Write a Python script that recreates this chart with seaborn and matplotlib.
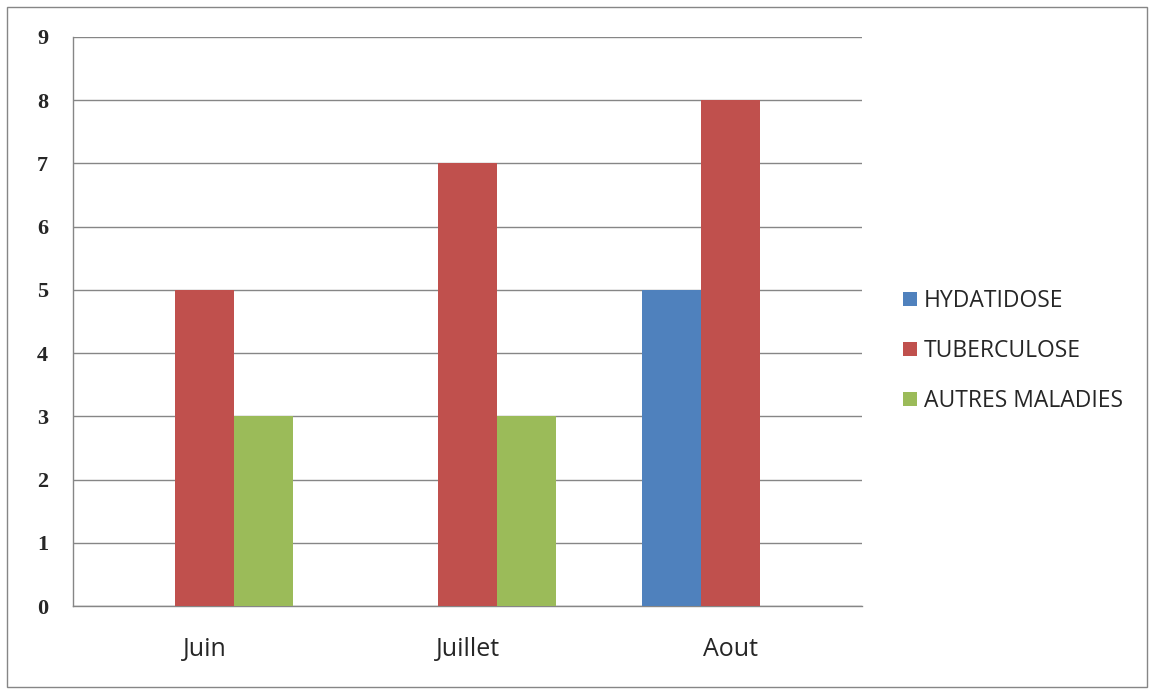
import matplotlib
matplotlib.use("Agg")
import matplotlib.pyplot as plt
from matplotlib.patches import Rectangle
from matplotlib.lines import Line2D
import seaborn as sns
import pandas as pd

months = ["Juin", "Juillet", "Aout"]
series = ["HYDATIDOSE", "TUBERCULOSE", "AUTRES MALADIES"]
hydatidose = [0, 0, 5]
tuberculose = [5, 7, 8]
autres = [3, 3, 0]
colors = ["#4F81BD", "#C0504D", "#9BBB59"]

df = pd.DataFrame({
    "mois": months * 3,
    "maladie": [s for s in series for _ in months],
    "cas": hydatidose + tuberculose + autres,
})

sns.set_style("white")
plt.rcParams["font.family"] = ["Open Sans", "DejaVu Sans"]

W, H = 1150, 689
fig = plt.figure(figsize=(W / 100, H / 100), dpi=100)
ax = fig.add_axes([73 / W, 83 / H, (862 - 73) / W, (606 - 37) / H])

sns.barplot(data=df, x="mois", y="cas", hue="maladie", order=months,
            hue_order=series, palette=colors, width=0.67, gap=0,
            saturation=1, linewidth=0, ax=ax, legend=False, zorder=3)

ax.set_xlim(-0.5, 2.5)
ax.set_ylim(0, 9)
ax.set_yticks(range(10))
ax.set_xlabel("")
ax.set_ylabel("")
ax.yaxis.grid(True, color="#868686", linewidth=1)
ax.set_axisbelow(True)
for side in ["top", "right"]:
    ax.spines[side].set_visible(False)
for side in ["left", "bottom"]:
    ax.spines[side].set_color("#868686")
    ax.spines[side].set_linewidth(1)

ax.tick_params(axis="y", length=7, width=1, color="#868686", pad=11)
for lbl in ax.get_yticklabels():
    lbl.set_fontfamily(["Liberation Serif", "DejaVu Serif"])
    lbl.set_fontweight("bold")
    lbl.set_fontsize(16)

ax.tick_params(axis="x", which="major", length=0, pad=22, labelsize=18)
ax.set_xticks([-0.5, 0.5, 1.5, 2.5], minor=True)
ax.tick_params(axis="x", which="minor", length=7, width=1, color="#868686")

handles = [Line2D([], [], marker="s", linestyle="", markersize=9.5,
                  markerfacecolor=c, markeredgewidth=0) for c in colors]
fig.legend(handles, series, loc="upper left",
           bbox_to_anchor=(903 / W, 1 - 289 / H), frameon=False,
           fontsize=16.5, handlelength=0.6, handletextpad=0.3,
           labelspacing=1.13, borderpad=0, borderaxespad=0)

fig.patches.append(Rectangle((7 / W, 2 / H), 1140 / W, 680 / H,
                             transform=fig.transFigure, fill=False,
                             edgecolor="#868686", linewidth=1))

fig.savefig("out.png", dpi=100, facecolor="white")
